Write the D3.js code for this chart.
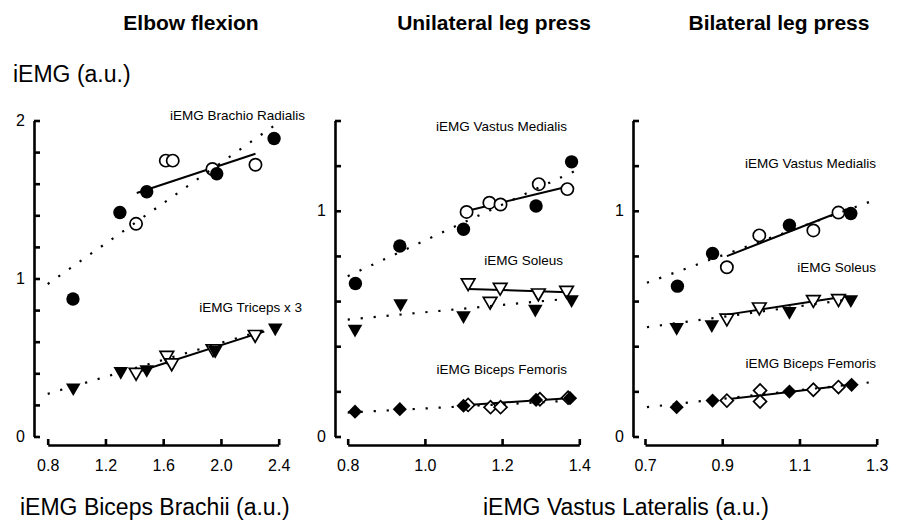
<!DOCTYPE html>
<html lang="en">
<head>
  <meta charset="UTF-8" />
  <title>iEMG relationships</title>
  <script src="https://cdn.jsdelivr.net/npm/d3@7"></script>
  <style>
    body { margin: 0; background: #fff; }
    svg { font-family: "Liberation Sans", Arial, sans-serif; }
  </style>
</head>
<body>
<svg id="chart" width="899" height="524"></svg>
<script>
  // panel titles and axis ticks
  var titles = ["Elbow flexion", "Unilateral leg press", "Bilateral leg press"];
  var xTicks = [[0.8, 1.2, 1.6, 2.0, 2.4], [0.8, 1.0, 1.2, 1.4], [0.7, 0.9, 1.1, 1.3]];
  var yTicks = [
    [0, 0.2, 0.4, 0.6, 0.8, 1.0, 1.2, 1.4, 1.6, 1.8, 2.0],
    [0, 0.2, 0.4, 0.6, 0.8, 1.0, 1.2, 1.4],
    [0, 0.2, 0.4, 0.6, 0.8, 1.0, 1.2, 1.4]
  ];
  var yLabelled = [[0, 1, 2], [0, 1], [0, 1]];
  var xLabels = ["iEMG Biceps Brachii (a.u.)", "iEMG Vastus Lateralis (a.u.)"];
  var yLabel = "iEMG (a.u.)";

  // Elbow flexion
  var brachioFilled = [[0.975, 0.87], [1.30, 1.418], [1.486, 1.549], [1.971, 1.663], [2.368, 1.886]];
  var brachioOpen = [[1.412, 1.346], [1.618, 1.746], [1.666, 1.746], [1.941, 1.693], [2.239, 1.72]];
  var brachioFit = [[1.417, 1.541], [2.239, 1.79]];
  var brachioAll = [[0.8, 0.965], [2.38, 1.975]];

  var tricepsFilled = [[0.977, 0.309], [1.306, 0.413], [1.486, 0.425], [1.96, 0.546], [2.376, 0.688]];
  var tricepsOpen = [[1.412, 0.406], [1.625, 0.514], [1.659, 0.466], [1.945, 0.555], [2.237, 0.646]];
  var tricepsFit = [[1.41, 0.405], [2.3, 0.665]];
  var tricepsAll = [[0.8, 0.27], [2.4, 0.70]];

  // Unilateral leg press
  var uniVmFilled = [[0.82, 0.678], [0.935, 0.844], [1.10, 0.918], [1.288, 1.021], [1.38, 1.217]];
  var uniVmOpen = [[1.108, 0.995], [1.167, 1.036], [1.196, 1.028], [1.295, 1.118], [1.369, 1.096]];
  var uniVmFit = [[1.108, 0.999], [1.371, 1.108]];
  var uniVmAll = [[0.8, 0.71], [1.393, 1.18]];

  var uniSolFilled = [[0.819, 0.476], [0.937, 0.589], [1.10, 0.536], [1.286, 0.565], [1.38, 0.607]];
  var uniSolOpen = [[1.112, 0.681], [1.169, 0.599], [1.195, 0.661], [1.294, 0.636], [1.367, 0.648]];
  var uniSolFit = [[1.112, 0.654], [1.371, 0.639]];
  var uniSolAll = [[0.8, 0.518], [1.393, 0.614]];

  var uniBfFilled = [[0.819, 0.11], [0.935, 0.121], [1.10, 0.136], [1.288, 0.162], [1.376, 0.17]];
  var uniBfOpen = [[1.112, 0.14], [1.17, 0.13], [1.196, 0.13], [1.298, 0.165], [1.371, 0.172]];
  var uniBfFit = [[1.112, 0.14], [1.371, 0.17]];
  var uniBfAll = [[0.8, 0.106], [1.39, 0.16]];

  // Bilateral leg press
  var biVmFilled = [[0.784, 0.666], [0.875, 0.811], [1.074, 0.936], [1.233, 0.988]];
  var biVmOpen = [[0.912, 0.75], [0.996, 0.891], [1.136, 0.913], [1.201, 0.992]];
  var biVmFit = [[0.912, 0.799], [1.222, 1.007]];
  var biVmAll = [[0.705, 0.681], [1.3, 1.051]];

  var biSolFilled = [[0.782, 0.484], [0.873, 0.496], [1.074, 0.555], [1.233, 0.607]];
  var biSolOpen = [[0.912, 0.525], [0.996, 0.574], [1.136, 0.607], [1.201, 0.611]];
  var biSolFit = [[0.912, 0.54], [1.222, 0.621]];
  var biSolAll = [[0.705, 0.484], [1.24, 0.61]];

  var biBfFilled = [[0.782, 0.13], [0.875, 0.159], [1.074, 0.199], [1.235, 0.229]];
  var biBfOpen = [[0.912, 0.159], [0.998, 0.204], [0.998, 0.155], [1.136, 0.207], [1.201, 0.219]];
  var biBfFit = [[0.912, 0.165], [1.231, 0.229]];
  var biBfAll = [[0.705, 0.13], [1.3, 0.243]];

  var series = [
    { p: 0, name: "iEMG Brachio Radialis", shape: "circle", filled: brachioFilled, open: brachioOpen, fit: brachioFit, all: brachioAll },
    { p: 0, name: "iEMG Triceps x 3", shape: "triangle", filled: tricepsFilled, open: tricepsOpen, fit: tricepsFit, all: tricepsAll },
    { p: 1, name: "iEMG Vastus Medialis", shape: "circle", filled: uniVmFilled, open: uniVmOpen, fit: uniVmFit, all: uniVmAll },
    { p: 1, name: "iEMG Soleus", shape: "triangle", filled: uniSolFilled, open: uniSolOpen, fit: uniSolFit, all: uniSolAll },
    { p: 1, name: "iEMG Biceps Femoris", shape: "diamond", filled: uniBfFilled, open: uniBfOpen, fit: uniBfFit, all: uniBfAll },
    { p: 2, name: "iEMG Vastus Medialis", shape: "circle", filled: biVmFilled, open: biVmOpen, fit: biVmFit, all: biVmAll },
    { p: 2, name: "iEMG Soleus", shape: "triangle", filled: biSolFilled, open: biSolOpen, fit: biSolFit, all: biSolAll },
    { p: 2, name: "iEMG Biceps Femoris", shape: "diamond", filled: biBfFilled, open: biBfOpen, fit: biBfFit, all: biBfAll }
  ];

  // layout
  var axisX = [34, 335, 633];
  var xRange = [[47.7, 278.7], [347.7, 579.3], [645, 876.7]];
  var yBottom = 436.5, yTop = 120.5, xAxisY = 445;
  var titleX = [191, 494, 779];
  var labelPos = [[305, 120], [302, 312], [567, 131], [563, 265], [567, 374], [876, 168], [876, 272], [876, 368]];

  var svg = d3.select("#chart");

  var xs = [], ys = [];
  for (var p = 0; p < 3; p++) {
    var x = d3.scaleLinear().domain([xTicks[p][0], xTicks[p][xTicks[p].length - 1]]).range(xRange[p]);
    var y = d3.scaleLinear().domain([0, yTicks[p][yTicks[p].length - 1]]).range([yBottom, yTop]);
    xs.push(x);
    ys.push(y);

    svg.append("text")
      .attr("x", titleX[p])
      .attr("y", 30)
      .attr("text-anchor", "middle")
      .attr("font-size", "21px")
      .attr("font-weight", "bold")
      .text(titles[p]);

    var labelled = yLabelled[p];
    var yAxis = d3.axisLeft(y)
      .tickValues(yTicks[p])
      .tickSizeInner(-6)
      .tickSizeOuter(0)
      .tickPadding(9)
      .tickFormat(function(d) {
        return labelled.some(function(v) { return Math.abs(v - d) < 1e-6; }) ? d3.format("d")(d) : "";
      });
    var gy = svg.append("g").attr("transform", "translate(" + axisX[p] + ",0)").call(yAxis);

    var gx = svg.append("g").attr("transform", "translate(0," + xAxisY + ")")
      .call(d3.axisBottom(x)
        .tickValues(xTicks[p])
        .tickSizeInner(-6)
        .tickSizeOuter(0)
        .tickPadding(15)
        .tickFormat(d3.format(".1f")));

    [gy, gx].forEach(function(g) {
      g.select(".domain").attr("stroke", "#000").attr("stroke-width", 2.6);
      g.selectAll(".tick line").attr("stroke", "#000").attr("stroke-width", 2.6);
      g.selectAll(".tick text")
        .attr("fill", "#000")
        .attr("font-size", "16px")
        .attr("font-family", "'Liberation Sans', Arial, sans-serif");
    });
  }

  var line = function(pts, x, y) {
    return d3.line().x(function(d) { return x(d[0]); }).y(function(d) { return y(d[1]); })(pts);
  };

  var symbolFor = function(shape, filled) {
    if (shape === "triangle") return d3.symbol(d3.symbolTriangle, filled ? 92 : 80)();
    if (shape === "diamond") return d3.symbol(d3.symbolSquare, filled ? 100 : 84)();
    return d3.symbol(d3.symbolCircle, filled ? 140 : 118)();
  };
  var rot = { circle: 0, triangle: 180, diamond: 45 };

  series.forEach(function(s, i) {
    var x = xs[s.p], y = ys[s.p];
    var g = svg.append("g");

    g.append("path")
      .attr("d", line(s.fit, x, y))
      .attr("fill", "none")
      .attr("stroke", "#000")
      .attr("stroke-width", 2);

    g.selectAll("path.open")
      .data(s.open)
      .enter()
      .append("path")
      .attr("class", "open")
      .attr("d", symbolFor(s.shape, false))
      .attr("transform", function(d) { return "translate(" + x(d[0]) + "," + y(d[1]) + ") rotate(" + rot[s.shape] + ")"; })
      .attr("fill", "#fff")
      .attr("stroke", "#000")
      .attr("stroke-width", 1.7);

    g.selectAll("path.filled")
      .data(s.filled)
      .enter()
      .append("path")
      .attr("class", "filled")
      .attr("d", symbolFor(s.shape, true))
      .attr("transform", function(d) { return "translate(" + x(d[0]) + "," + y(d[1]) + ") rotate(" + rot[s.shape] + ")"; })
      .attr("fill", "#000");

    g.append("path")
      .attr("d", line(s.all, x, y))
      .attr("fill", "none")
      .attr("stroke", "#000")
      .attr("stroke-width", 2.2)
      .attr("stroke-dasharray", "2.2 10.8");

    svg.append("text")
      .attr("x", labelPos[i][0])
      .attr("y", labelPos[i][1])
      .attr("text-anchor", "end")
      .attr("font-size", "13.5px")
      .text(s.name);
  });

  // axis titles
  svg.append("text").attr("x", 13).attr("y", 82).attr("font-size", "23px").text(yLabel);
  svg.append("text").attr("x", 20).attr("y", 515).attr("font-size", "23px").text(xLabels[0]);
  svg.append("text").attr("x", 483).attr("y", 515).attr("font-size", "23px").text(xLabels[1]);
</script>
</body>
</html>
